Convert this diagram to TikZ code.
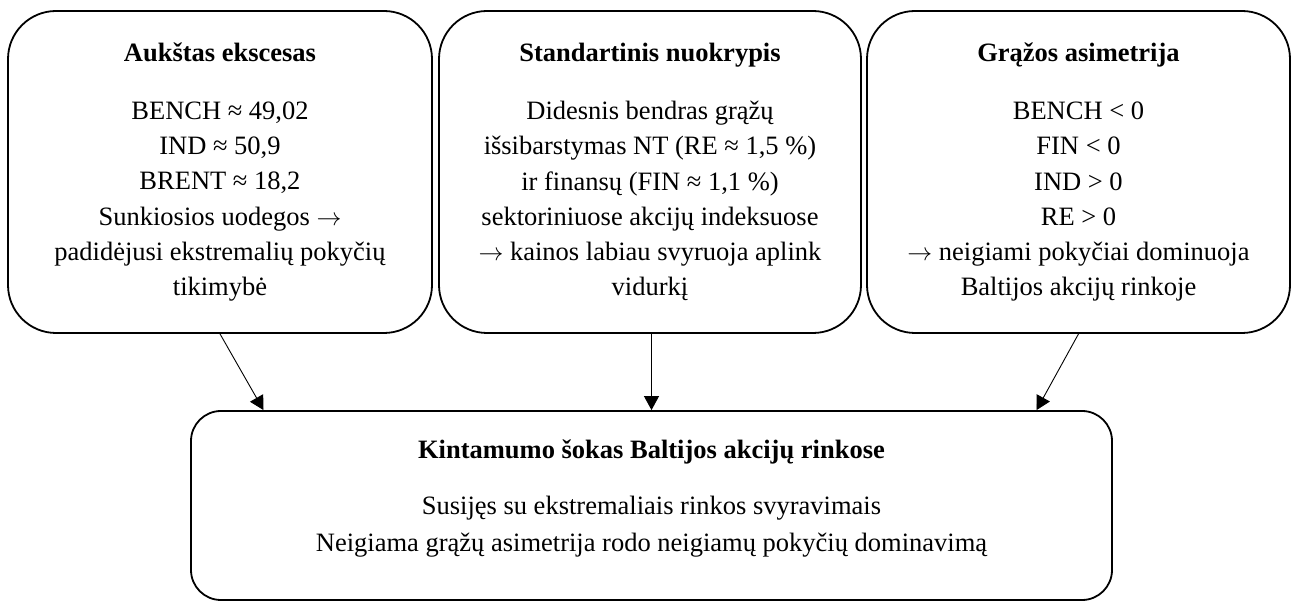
\documentclass[tikz,border=0pt]{standalone}
\usepackage{fontspec}
\setmainfont{Liberation Serif}
\usetikzlibrary{arrows.meta}
\newcommand{\toarrow}{$\rightarrow$}
\begin{document}
\begin{tikzpicture}[x=1pt,y=1pt,
  topbox/.style={draw, line width=1.8pt, rounded corners=48pt, inner sep=0pt,
    minimum height=322pt, align=center,
    font=\fontsize{26.5}{35.1}\selectfont},
  botbox/.style={draw, line width=1.8pt, rounded corners=30pt, inner sep=0pt,
    minimum width=921pt, minimum height=189pt},
  bodytext/.style={align=center, inner sep=0pt, font=\fontsize{26.5}{36.5}\selectfont},
  link/.style={line width=0.9pt, -{Triangle[length=14pt,width=15pt]}}]
\useasboundingbox (0,0) rectangle (1291,600);

% upper row of three summary boxes
\node[topbox, minimum width=424pt] (kurt) at (220,428)
  {\textbf{Aukštas ekscesas}\\[23pt]
   BENCH ≈ 49,02\\ IND ≈ 50,9\\ BRENT ≈ 18,2\\
   Sunkiosios uodegos \toarrow\\ padidėjusi ekstremalių pokyčių\\ tikimybė};
\node[topbox, minimum width=422pt] (stdev) at (650,428)
  {\textbf{Standartinis nuokrypis}\\[23pt]
   Didesnis bendras grąžų\\ išsibarstymas NT (RE ≈ 1,5 \%)\\
   ir finansų (FIN ≈ 1,1 \%)\\ sektoriniuose akcijų indeksuose\\
   \toarrow{} kainos labiau svyruoja aplink\\ vidurkį};
\node[topbox, minimum width=423pt] (skew) at (1078.5,428)
  {\textbf{Grąžos asimetrija}\\[23pt]
   BENCH < 0\\ FIN < 0\\ IND > 0\\ RE > 0\\
   \toarrow{} neigiami pokyčiai dominuoja\\ Baltijos akcijų rinkoje};

% lower conclusion box
\node[botbox] (shock) at (651.5,94.5) {};
\node[bodytext] (shocktext) at ([yshift=7pt]shock.center)
  {\textbf{Kintamumo šokas Baltijos akcijų rinkose}\\[20pt]
   Susijęs su ekstremaliais rinkos svyravimais\\
   Neigiama grąžų asimetrija rodo neigiamų pokyčių dominavimą};

% connectors
\draw[link] (kurt.south) -- ([xshift=-388pt]shock.north);
\draw[link] (stdev.south -| shock.north) -- (shock.north);
\draw[link] (skew.south) -- ([xshift=385pt]shock.north);
\end{tikzpicture}
\end{document}
